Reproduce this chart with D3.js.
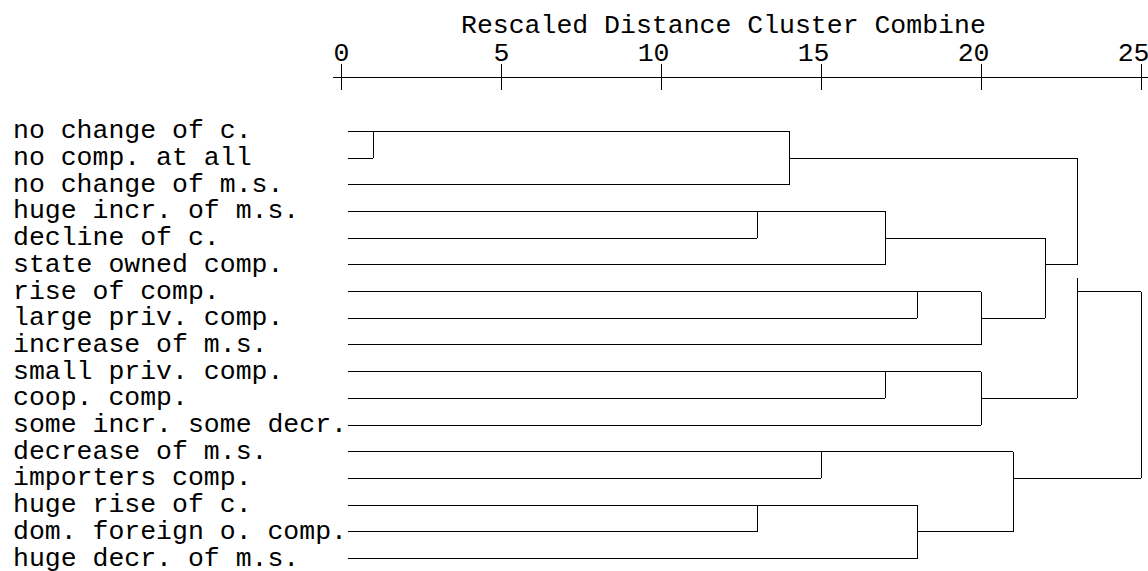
<!DOCTYPE html>
<html>
<head>
<meta charset="utf-8">
<script src="https://cdn.jsdelivr.net/npm/d3@7"></script>
<style>
  body { margin: 0; background: #fff; }
  text { font-family: "Liberation Mono", "Courier New", monospace; font-size: 26.5px; fill: #000; }
</style>
</head>
<body>
<svg width="1148" height="571"></svg>
<script>
const svg = d3.select('svg');

// case labels, top to bottom
const labels = [
  'no change of c.', 'no comp. at all', 'no change of m.s.', 'huge incr. of m.s.',
  'decline of c.', 'state owned comp.', 'rise of comp.', 'large priv. comp.',
  'increase of m.s.', 'small priv. comp.', 'coop. comp.', 'some incr. some decr.',
  'decrease of m.s.', 'importers comp.', 'huge rise of c.', 'dom. foreign o. comp.',
  'huge decr. of m.s.'
];

// merge steps: row of first cluster, row of second, rescaled distance, row the joined cluster continues on
const mergeA = [0, 3, 14, 0, 12, 3, 9, 6, 14, 6, 9, 12, 4, 1, 5.5, 6];
const mergeB = [1, 4, 15, 2, 13, 5, 10, 7, 16, 8, 11, 15, 7, 5, 10, 13];
const mergeDist = [1, 13, 13, 14, 15, 17, 17, 18, 18, 20, 20, 21, 22, 23, 23, 25];
const mergeOut = [0, 3, 14, 1, 12, 4, 9, 6, 15, 7, 10, 13, 5, 5.5, 6, null];

const tickVals = [0, 5, 10, 15, 20, 25];

const x = d3.scaleLinear().domain([0, 25]).range([341, 1141]);
const y = d3.scaleLinear().domain([0, 16]).range([131.3, 558.5]);

// title
svg.append('text')
  .attr('x', 461).attr('y', 33)
  .text('Rescaled Distance Cluster Combine');

// axis
const axisG = svg.append('g')
  .attr('transform', 'translate(0,90)')
  .call(d3.axisTop(x).tickValues(tickVals).tickSize(26).tickFormat(d3.format('d')));
axisG.select('.domain').remove();
axisG.selectAll('line').attr('stroke', '#000').attr('shape-rendering', 'crispEdges');
axisG.selectAll('text')
  .attr('font-family', null).attr('font-size', null)
  .attr('text-anchor', 'end')
  .attr('x', 8).attr('y', -29).attr('dy', null);
svg.append('line')
  .attr('x1', 333).attr('x2', 1148)
  .attr('y1', 77.5).attr('y2', 77.5)
  .attr('stroke', '#000').attr('shape-rendering', 'crispEdges');

// case labels
svg.append('g').selectAll('text')
  .data(labels)
  .enter().append('text')
  .attr('x', 13)
  .attr('y', (d, i) => y(i) + 7)
  .text(d => d);

// build dendrogram segments
const segs = [];
const active = new Map();
labels.forEach((d, i) => active.set(i, { row: i, start: null }));
const leafX = x(0) + 7;

mergeDist.forEach((d, k) => {
  const a = active.get(mergeA[k]);
  const b = active.get(mergeB[k]);
  [a, b].forEach(n => {
    segs.push({ x1: n.start === null ? leafX : x(n.start), x2: x(d), y1: y(n.row), y2: y(n.row) });
  });
  segs.push({ x1: x(d), x2: x(d), y1: y(a.row), y2: y(b.row) });
  active.delete(mergeA[k]);
  active.delete(mergeB[k]);
  if (mergeOut[k] !== null) active.set(mergeOut[k], { row: mergeOut[k], start: d });
});

svg.append('g').selectAll('line')
  .data(segs)
  .enter().append('line')
  .attr('x1', d => d.x1).attr('x2', d => d.x2)
  .attr('y1', d => d.y1).attr('y2', d => d.y2)
  .attr('stroke', '#000')
  .attr('shape-rendering', 'crispEdges');
</script>
</body>
</html>
